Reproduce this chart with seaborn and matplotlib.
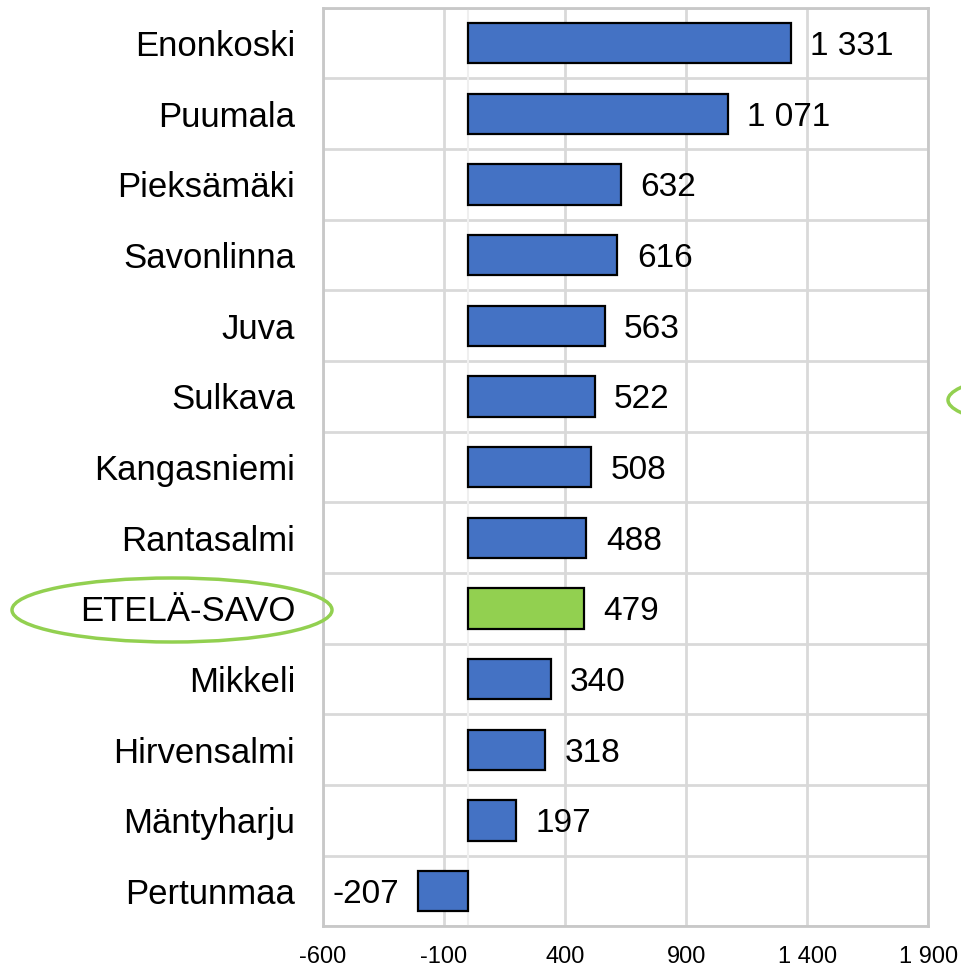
import matplotlib
matplotlib.use("Agg")
import matplotlib.pyplot as plt
import seaborn as sns
import pandas as pd
from matplotlib.patches import Ellipse

# Data
municipalities = ["Enonkoski", "Puumala", "Pieksämäki", "Savonlinna", "Juva", "Sulkava",
                  "Kangasniemi", "Rantasalmi", "ETELÄ-SAVO", "Mikkeli", "Hirvensalmi",
                  "Mäntyharju", "Pertunmaa"]
values = [1331, 1071, 632, 616, 563, 522, 508, 488, 479, 340, 318, 197, -207]
highlight = "ETELÄ-SAVO"
x_ticks = [-600, -100, 400, 900, 1400, 1900]

BLUE = "#4472C4"
GREEN = "#92D050"
GRID = "#D9D9D9"

def fmt(v):
    # Finnish style thousand separator (space)
    return f"{v:,}".replace(",", " ")

df = pd.DataFrame({"kunta": municipalities, "arvo": values})
palette = {k: (GREEN if k == highlight else BLUE) for k in municipalities}

sns.set_style("white")
plt.rcParams["font.family"] = ["Liberation Sans", "DejaVu Sans"]
plt.rcParams["text.color"] = "black"
plt.rcParams["xtick.color"] = "black"
plt.rcParams["ytick.color"] = "black"

fig = plt.figure(figsize=(9.61, 9.67), dpi=100)
ax = fig.add_axes([0.336, 0.042, 0.630, 0.950])

sns.barplot(data=df, y="kunta", x="arvo", hue="kunta", palette=palette, legend=False,
            orient="h", width=0.57, saturation=1, edgecolor="black", linewidth=1.6,
            ax=ax, zorder=3)

ax.set_xlim(x_ticks[0], x_ticks[-1])
ax.set_ylim(len(municipalities) - 0.5, -0.5)
ax.set_xticks(x_ticks)
ax.set_xticklabels([fmt(t) for t in x_ticks], fontsize=17)
ax.set_yticks(range(len(municipalities)))
ax.set_yticklabels(municipalities, fontsize=25)
ax.tick_params(axis="y", length=0, pad=20)
ax.tick_params(axis="x", length=0, pad=14)
ax.set_xlabel("")
ax.set_ylabel("")

# grid: vertical at ticks, horizontal between categories
ax.set_yticks([i + 0.5 for i in range(-1, len(municipalities))], minor=True)
ax.tick_params(axis="y", which="minor", length=0)
ax.grid(axis="y", which="minor", color=GRID, linewidth=2, zorder=0)
ax.grid(axis="x", which="major", color=GRID, linewidth=2, zorder=0)
ax.grid(axis="y", which="major", visible=False)
ax.axvline(0, color="#EFEFEF", linewidth=1.5, zorder=1)
for s in ax.spines.values():
    s.set_color("#C8C8C8")
    s.set_linewidth(2)

# value labels
for container in ax.containers:
    for bar in container:
        w = bar.get_width()
        y = bar.get_y() + bar.get_height() / 2
        if w >= 0:
            ax.annotate(fmt(int(round(w))), (w, y), xytext=(14, 0), textcoords="offset points",
                        ha="left", va="center_baseline", fontsize=24)
        else:
            ax.annotate(fmt(int(round(w))), (w, y), xytext=(-14, 0), textcoords="offset points",
                        ha="right", va="center_baseline", fontsize=24)

# green highlight ellipses (figure pixel coords)
W, H = 961, 967
fig.patches.append(Ellipse((172 / W, 1 - 610 / H), 320 / W, 64 / H, transform=fig.transFigure,
                           fill=False, edgecolor=GREEN, linewidth=2.5))
fig.patches.append(Ellipse((1108 / W, 1 - 400 / H), 320 / W, 64 / H, transform=fig.transFigure,
                           fill=False, edgecolor=GREEN, linewidth=2.5))

fig.savefig("out.png", dpi=100)
